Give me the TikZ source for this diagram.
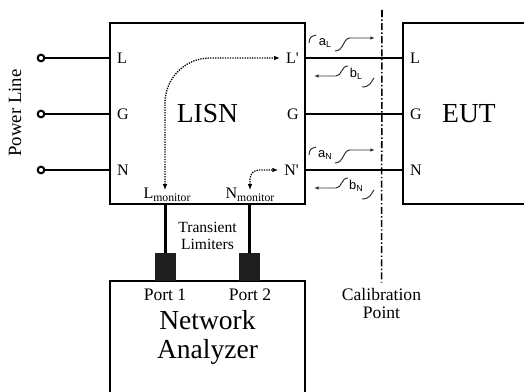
\documentclass[tikz,border=0pt]{standalone}
\usepackage{fontspec}
\setmainfont{Liberation Serif}
\newfontfamily\wavefont{Liberation Sans}
\usetikzlibrary{arrows.meta,positioning,calc}
\definecolor{limiterBlack}{RGB}{30,30,30}
\definecolor{waveGray}{RGB}{50,50,50}
\newcommand{\monsub}[1]{\raisebox{-0.5ex}{\fontsize{10}{11}\selectfont #1}}
\newcommand{\wavesub}[1]{\raisebox{-0.35ex}{\fontsize{7.5}{8}\selectfont #1}}
\tikzset{
  unitbox/.style={draw, line width=1.8pt, inner sep=0pt, align=center,
    font=\fontsize{23.5}{24.8}\selectfont},
  pin/.style={inner sep=0pt, font=\fontsize{13.7}{15}\selectfont},
  plabel/.style={inner sep=0pt, align=center, font=\fontsize{15}{14.8}\selectfont},
  wire/.style={line width=1.8pt},
  terminal/.style={circle, draw, fill=white, line width=1.7pt,
    minimum size=0.2cm, inner sep=0pt},
  limiter/.style={fill=limiterBlack, minimum width=0.63cm, minimum height=0.84cm,
    inner sep=0pt},
  probe/.style={densely dotted, line width=1.1pt,
    {Latex[length=5pt,width=4pt]}-{Latex[length=5pt,width=4pt]}},
  wave/.style={line width=0.85pt, color=waveGray},
  wavearr/.style={wave, -{Latex[length=4pt,width=3pt]}},
  wavetxt/.style={inner sep=0pt, font=\wavefont\fontsize{11}{12}\selectfont},
  calib/.style={line width=1.3pt, dash pattern=on 6pt off 2pt on 1.2pt off 2pt},
}

\begin{document}
\begin{tikzpicture}[x=0.03cm, y=-0.03cm]
\clip (0,0) rectangle (524,392);

%% BOXES
\node[unitbox, minimum width=5.85cm, minimum height=5.43cm] (LISN) at (207.5,113.5) {LISN};
\node[unitbox, minimum width=3.96cm, minimum height=5.43cm] (EUT) at (469,113.5) {EUT};
\node[unitbox, minimum width=5.85cm, minimum height=3.36cm] (NA) at (207.5,337) {Network\\Analyzer};

%% POWER LINE SIDE
\node[font=\fontsize{16}{17}\selectfont, rotate=90] (pwr) at (15,113) {Power Line};
\node[terminal] (tL) at (41,58) {};
\node[terminal] (tG) at (41,114) {};
\node[terminal] (tN) at (41,170) {};
\node[pin, anchor=base west] (inL) at (117,63.5) {L};
\node[pin, anchor=base west] (inG) at (117,119.5) {G};
\node[pin, anchor=base west] (inN) at (117,175.5) {N};
\draw[wire] (tL) -- (tL -| LISN.west);
\draw[wire] (tG) -- (tG -| LISN.west);
\draw[wire] (tN) -- (tN -| LISN.west);

%% LISN TO EUT
\node[pin, anchor=base east] (outL) at (299,63.5) {L\textquotesingle};
\node[pin, anchor=base east] (outG) at (299,119.5) {G};
\node[pin, anchor=base east] (outN) at (299,175.5) {N\textquotesingle};
\node[pin, anchor=base west] (eutL) at (410,63.5) {L};
\node[pin, anchor=base west] (eutG) at (410,119.5) {G};
\node[pin, anchor=base west] (eutN) at (410,175.5) {N};
\draw[wire] (LISN.east |- tL) -- (EUT.west |- tL);
\draw[wire] (LISN.east |- tG) -- (EUT.west |- tG);
\draw[wire] (LISN.east |- tN) -- (EUT.west |- tN);

%% MONITOR PORTS
\node[pin, anchor=base] (Lmon) at (167,198) {L\monsub{monitor}};
\node[pin, anchor=base] (Nmon) at (250,198) {N\monsub{monitor}};
\coordinate (LmonTip) at (165,190);
\coordinate (NmonTip) at (250,190);
\draw[probe, rounded corners=1.35cm] (LmonTip) |- ([xshift=-5pt]outL.west |- tL);
\draw[probe, rounded corners=0.27cm] (NmonTip) |- ([xshift=-5pt]outN.west |- tN);

%% TRANSIENT LIMITERS
\node[limiter, anchor=south] (lim1) at (165.5,281) {};
\node[limiter, anchor=south] (lim2) at (249.5,281) {};
\draw[wire] (lim1.north) -- (lim1.north |- LISN.south);
\draw[wire] (lim2.north) -- (lim2.north |- LISN.south);
\node[plabel, font=\fontsize{13.3}{14.5}\selectfont] (limTxt) at (207.5,236) {Transient\\Limiters};
\node[plabel, anchor=base] (port1) at (165,300) {Port 1};
\node[plabel, anchor=base] (port2) at (250,300) {Port 2};

%% CALIBRATION POINT
\node[plabel, inner sep=2pt] (calTxt) at (381.5,303.5) {Calibration\\Point};
\coordinate (calTop) at (382,10);
\draw[calib, shorten >=3pt] (calTop) -- (calTxt.north);

%% WAVES
\node[wavetxt] (aL) at (325,43) {a\wavesub{L}};
\draw[wave] ($(aL)+(-16,0)$) .. controls ($(aL)+(-15,-6)$) .. ($(aL)+(-9,-8)$);
\draw[wavearr] ($(aL)+(10,8)$) .. controls ($(aL)+(19,8)$) and ($(aL)+(18,-5)$)
  .. ($(aL)+(25,-5)$) -- ($(aL)+(50,-5)$);
\node[wavetxt] (bL) at (356,74) {b\wavesub{L}};
\draw[wavearr] ($(bL)+(-8,-8)$) .. controls ($(bL)+(-15,-8)$) and ($(bL)+(-14,2)$)
  .. ($(bL)+(-20,2)$) -- ($(bL)+(-42,2)$);
\draw[wave] ($(bL)+(6,13)$) .. controls ($(bL)+(14,13)$) and ($(bL)+(15,8)$) .. ($(bL)+(18,4)$);

\node[wavetxt] (aN) at (325,155) {a\wavesub{N}};
\draw[wave] ($(aN)+(-16,0)$) .. controls ($(aN)+(-15,-6)$) .. ($(aN)+(-9,-8)$);
\draw[wavearr] ($(aN)+(10,8)$) .. controls ($(aN)+(19,8)$) and ($(aN)+(18,-5)$)
  .. ($(aN)+(25,-5)$) -- ($(aN)+(50,-5)$);
\node[wavetxt] (bN) at (356,186) {b\wavesub{N}};
\draw[wavearr] ($(bN)+(-8,-8)$) .. controls ($(bN)+(-15,-8)$) and ($(bN)+(-14,2)$)
  .. ($(bN)+(-20,2)$) -- ($(bN)+(-42,2)$);
\draw[wave] ($(bN)+(6,13)$) .. controls ($(bN)+(14,13)$) and ($(bN)+(15,8)$) .. ($(bN)+(18,4)$);

\end{tikzpicture}
\end{document}
